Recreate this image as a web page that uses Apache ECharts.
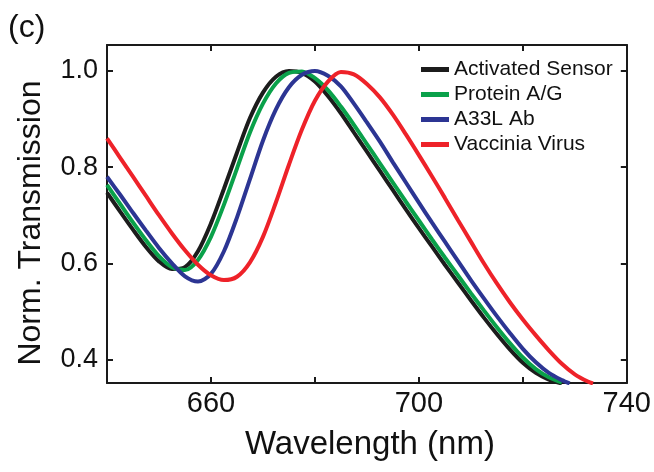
<!DOCTYPE html>
<html>
<head>
<meta charset="utf-8">
<title>Norm. Transmission</title>
<script src="https://cdn.jsdelivr.net/npm/echarts@6/dist/echarts.min.js"></script>
<style>
  html, body { margin: 0; padding: 0; background: #fff; }
  #chart_c { width: 654px; height: 472px; }
</style>
</head>
<body>
<div id="chart_c"></div>
<script>
// series names (legend order)
var seriesNames = ['Activated Sensor', 'Protein A/G', 'A33L Ab', 'Vaccinia Virus'];
var seriesColors = ['#1c1c1c', '#0aa14a', '#2c3593', '#ee2229'];

// [wavelength nm, normalized transmission]
var activatedSensor = [
    [640, 0.747], [642.5, 0.708], [645, 0.670], [647.5, 0.634], [650, 0.604],
    [652.5, 0.588], [655, 0.592], [657.5, 0.625], [660, 0.683], [662.5, 0.755],
    [665, 0.830], [667.5, 0.902], [670, 0.955], [672.5, 0.988], [675, 1.0],
    [677.5, 0.996], [680, 0.978], [682.5, 0.948], [685, 0.912], [687.5, 0.872],
    [690, 0.832], [692.5, 0.792], [695, 0.752], [697.5, 0.712], [700, 0.673],
    [702.5, 0.635], [705, 0.597], [707.5, 0.560], [710, 0.523], [712.5, 0.487],
    [715, 0.453], [717.5, 0.421], [720, 0.393], [722.5, 0.372], [725, 0.358],
    [727.5, 0.350]
];
var proteinAG = [
    [640, 0.763], [642.5, 0.724], [645, 0.685], [647.5, 0.648], [650, 0.615],
    [652.5, 0.592], [655, 0.586], [657.5, 0.607], [660, 0.655], [662.5, 0.722],
    [665, 0.797], [667.5, 0.872], [670, 0.932], [672.5, 0.974], [675, 0.996],
    [677.5, 0.999], [680, 0.985], [682.5, 0.960], [685, 0.926], [687.5, 0.888],
    [690, 0.848], [692.5, 0.808], [695, 0.768], [697.5, 0.728], [700, 0.689],
    [702.5, 0.650], [705, 0.612], [707.5, 0.575], [710, 0.538], [712.5, 0.502],
    [715, 0.467], [717.5, 0.434], [720, 0.404], [722.5, 0.380], [725, 0.363],
    [727.5, 0.352]
];
var a33lAb = [
    [640, 0.780], [642.5, 0.743], [645, 0.705], [647.5, 0.668], [650, 0.632],
    [652.5, 0.600], [655, 0.573], [657.5, 0.562], [660, 0.578], [662.5, 0.625],
    [665, 0.695], [667.5, 0.775], [670, 0.855], [672.5, 0.920], [675, 0.966],
    [677.5, 0.992], [680, 1.0], [682.5, 0.990], [685, 0.968], [687.5, 0.932],
    [690, 0.893], [692.5, 0.853], [695, 0.810], [697.5, 0.768], [700, 0.726],
    [702.5, 0.685], [705, 0.645], [707.5, 0.605], [710, 0.565], [712.5, 0.527],
    [715, 0.490], [717.5, 0.455], [720, 0.422], [722.5, 0.394], [725, 0.372],
    [727.5, 0.357], [729, 0.350]
];
var vacciniaVirus = [
    [640, 0.860], [642.5, 0.820], [645, 0.780], [647.5, 0.740], [650, 0.700],
    [652.5, 0.662], [655, 0.627], [657.5, 0.597], [660, 0.575], [662.5, 0.565],
    [665, 0.572], [667.5, 0.602], [670, 0.655], [672.5, 0.727], [675, 0.805],
    [677.5, 0.878], [680, 0.938], [682.5, 0.978], [685, 0.998], [687.5, 0.993],
    [690, 0.973], [692.5, 0.945], [695, 0.909], [697.5, 0.868], [700, 0.825],
    [702.5, 0.781], [705, 0.736], [707.5, 0.690], [710, 0.645], [712.5, 0.600],
    [715, 0.558], [717.5, 0.519], [720, 0.483], [722.5, 0.450], [725, 0.419],
    [727.5, 0.391], [730, 0.369], [732.5, 0.354], [733.5, 0.350]
];

// tick labels
var xTicks = [660, 680, 700, 720];
var xLabels = [660, 700, 740];
var yTicks = [0.4, 0.6, 0.8, 1.0];

var allData = [activatedSensor, proteinAG, a33lAb, vacciniaVirus];

var myChart = echarts.init(document.getElementById('chart_c'));

var frameLine = { show: true, onZero: false, lineStyle: { color: '#1a1a1a', width: 2 } };
var tickStyle = { width: 2, color: '#1a1a1a' };
var font = 'Liberation Sans, Arial, sans-serif';

var seriesList = [];
for (var i = 0; i < seriesNames.length; i++) {
    seriesList.push({
        name: seriesNames[i],
        type: 'line',
        data: allData[i],
        smooth: 0.3,
        showSymbol: false,
        lineStyle: { color: seriesColors[i], width: 4 },
        itemStyle: { color: seriesColors[i] }
    });
}

var option = {
    animation: false,
    title: {
        text: '(c)',
        left: 3,
        top: 7,
        textStyle: { fontFamily: font, fontSize: 32, fontWeight: 'normal', color: '#111' }
    },
    legend: {
        data: seriesNames,
        orient: 'vertical',
        left: 416,
        top: 54,
        icon: 'rect',
        itemWidth: 28,
        itemHeight: 5,
        itemGap: 4,
        textStyle: { fontFamily: font, fontSize: 21, color: '#111', lineHeight: 21 }
    },
    grid: { left: 107, right: 27, top: 45, bottom: 89 },
    xAxis: [
        {
            type: 'value',
            position: 'bottom',
            min: 640,
            max: 740,
            interval: 20,
            name: 'Wavelength (nm)',
            nameLocation: 'middle',
            nameGap: 45,
            nameTextStyle: { fontFamily: font, fontSize: 33, color: '#111', padding: [0, 0, 0, 6] },
            axisLine: frameLine,
            axisTick: { show: true, inside: true, length: 6, lineStyle: tickStyle, customValues: xTicks },
            axisLabel: { fontFamily: font, fontSize: 29, color: '#111', margin: 6, customValues: xLabels },
            splitLine: { show: false }
        },
        {
            type: 'value',
            position: 'top',
            min: 640,
            max: 740,
            interval: 20,
            axisLine: frameLine,
            axisTick: { show: true, inside: true, length: 6, lineStyle: tickStyle, customValues: xTicks },
            axisLabel: { show: false },
            splitLine: { show: false }
        }
    ],
    yAxis: [
        {
            type: 'value',
            position: 'left',
            min: 0.351,
            max: 1.054,
            name: 'Norm. Transmission',
            nameLocation: 'middle',
            nameGap: 60,
            nameTextStyle: { fontFamily: font, fontSize: 32, color: '#111', padding: [0, 18, 0, 0] },
            axisLine: frameLine,
            axisTick: { show: true, inside: true, length: 6, lineStyle: tickStyle, customValues: yTicks },
            axisLabel: {
                fontFamily: font, fontSize: 27, color: '#111', margin: 9, customValues: yTicks,
                formatter: function (v) { return v.toFixed(1); }
            },
            splitLine: { show: false }
        },
        {
            type: 'value',
            position: 'right',
            min: 0.351,
            max: 1.054,
            axisLine: frameLine,
            axisTick: { show: true, inside: true, length: 6, lineStyle: tickStyle, customValues: yTicks },
            axisLabel: { show: false },
            splitLine: { show: false }
        }
    ],
    series: seriesList
};
myChart.setOption(option);
</script>
</body>
</html>
